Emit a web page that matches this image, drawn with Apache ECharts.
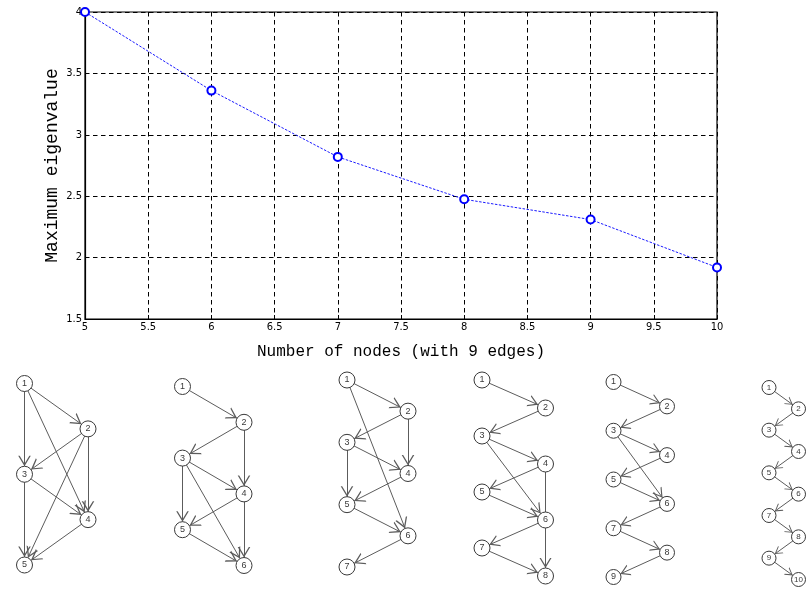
<!DOCTYPE html>
<html>
<head>
<meta charset="utf-8">
<script src="https://cdn.jsdelivr.net/npm/echarts@6/dist/echarts.min.js"></script>
<style>
  html, body { margin: 0; padding: 0; background: #ffffff; }
  #chart { width: 809px; height: 593px; }
</style>
</head>
<body>
<div id="chart"></div>
<script>
// Largest eigenvalue of the adjacency matrix vs. number of nodes (9 edges each)
const nodeCounts = [5, 6, 7, 8, 9, 10];
const maxEigenvalues = [4.0, 3.36, 2.82, 2.475, 2.31, 1.92];
const xTickStep = 0.5;
const yTickStep = 0.5;

// Directed edges (from, to) of the six example graphs drawn below the plot
const edgesN5  = [[1,2],[1,3],[1,4],[2,3],[2,4],[2,5],[3,4],[3,5],[4,5]];
const edgesN6  = [[1,2],[2,3],[2,4],[3,4],[3,5],[3,6],[4,5],[4,6],[5,6]];
const edgesN7  = [[1,2],[1,6],[2,3],[2,4],[3,4],[3,5],[4,5],[5,6],[6,7]];
const edgesN8  = [[1,2],[2,3],[3,4],[3,6],[4,5],[4,8],[5,6],[6,7],[7,8]];
const edgesN9  = [[1,2],[2,3],[3,4],[3,6],[4,5],[5,6],[6,7],[7,8],[8,9]];
const edgesN10 = [[1,2],[2,3],[3,4],[4,5],[5,6],[6,7],[7,8],[8,9],[9,10]];
const graphEdges = [edgesN5, edgesN6, edgesN7, edgesN8, edgesN9, edgesN10];

// Placement of each small graph drawing (zig-zag layout: odd nodes left, even right)
const graphBoxes = [
  { left: 24.5,  top: 383.5, width: 63.5, height: 181.5, node: 16, arrow: 21 },
  { left: 182.5, top: 386.5, width: 61.5, height: 179,   node: 16, arrow: 21 },
  { left: 347,   top: 380,   width: 61,   height: 187,   node: 16, arrow: 21 },
  { left: 482,   top: 380,   width: 63.5, height: 196,   node: 16, arrow: 20 },
  { left: 613.5, top: 382,   width: 53.5, height: 195,   node: 15, arrow: 19 },
  { left: 769,   top: 387.5, width: 29.5, height: 192,   node: 14, arrow: 15 }
];

// Open "V" arrow head; apex sits at the symbol centre so it touches the node border
const openArrow = 'path://M0,0L20,0L0,0Z M10,10 L16,20 L14.6,20 L10,12.4 L5.4,20 L4,20 Z';

const tickFont = "'Liberation Sans Narrow','DejaVu Sans Condensed','Liberation Sans',sans-serif";
const monoFont = "'Liberation Mono','DejaVu Sans Mono',monospace";

const grids = [{
  left: 85, top: 12, width: 632, height: 307,
  show: true, borderColor: '#000', borderWidth: 1.2, backgroundColor: 'transparent'
}];
const xAxes = [{
  gridIndex: 0, type: 'value', min: 5, max: 10, interval: xTickStep,
  name: 'Number of nodes (with 9 edges)', nameLocation: 'middle', nameGap: 25,
  nameMoveOverlap: false,
  nameTextStyle: { fontFamily: monoFont, fontSize: 16, color: '#000' },
  axisLine: { lineStyle: { color: '#000', width: 1.2 } },
  axisTick: { inside: true, length: 4, lineStyle: { color: '#000' } },
  axisLabel: { margin: 3, fontFamily: tickFont, fontSize: 11, color: '#000',
               showMinLabel: true, showMaxLabel: true },
  splitLine: { show: true, lineStyle: { color: '#000', width: 1, type: [4.5, 3.5] } }
}];
const yAxes = [{
  gridIndex: 0, type: 'value', min: 1.5, max: 4, interval: yTickStep,
  name: 'Maximum eigenvalue', nameLocation: 'middle', nameGap: 24,
  nameMoveOverlap: false,
  nameTextStyle: { fontFamily: monoFont, fontSize: 18, color: '#000' },
  axisLine: { lineStyle: { color: '#000', width: 1.2 } },
  axisTick: { inside: true, length: 4, lineStyle: { color: '#000' } },
  axisLabel: { margin: 3, fontFamily: tickFont, fontSize: 11, color: '#000',
               showMinLabel: true, showMaxLabel: true },
  splitLine: { show: true, lineStyle: { color: '#000', width: 1, type: [4.5, 3.5] } }
}];

const series = [{
  type: 'line',
  xAxisIndex: 0, yAxisIndex: 0,
  data: nodeCounts.map((n, i) => [n, maxEigenvalues[i]]),
  clip: false,
  symbol: 'emptyCircle', symbolSize: 8,
  lineStyle: { color: '#1a1aff', width: 1, type: [2.5, 1.5] },
  itemStyle: { color: '#0000ff', borderColor: '#0000ff', borderWidth: 1 },
  z: 5, silent: true
}];

graphEdges.forEach((edges, k) => {
  const n = nodeCounts[k];
  const box = graphBoxes[k];
  const gi = k + 1;
  grids.push({ left: box.left, top: box.top, width: box.width, height: box.height, show: false });
  xAxes.push({ gridIndex: gi, type: 'value', min: 0, max: 1, show: false });
  yAxes.push({ gridIndex: gi, type: 'value', min: 0, max: n - 1, inverse: true, show: false });

  const nodes = [];
  for (let i = 1; i <= n; i++) {
    nodes.push({ name: String(i), value: [(i + 1) % 2 === 0 ? 0 : 1, i - 1] });
  }
  series.push({
    type: 'graph',
    coordinateSystem: 'cartesian2d',
    xAxisIndex: gi, yAxisIndex: gi,
    silent: true,
    symbol: 'circle',
    symbolSize: box.node,
    itemStyle: { color: '#ffffff', borderColor: '#3a3a3a', borderWidth: 1 },
    label: {
      show: true, position: 'inside', color: '#3a3a3a',
      fontFamily: "'Liberation Sans','DejaVu Sans',sans-serif",
      fontSize: n === 10 ? 8 : 9
    },
    edgeSymbol: ['none', openArrow],
    edgeSymbolSize: [0, box.arrow],
    lineStyle: { color: '#5c5c5c', width: 1, opacity: 1, curveness: 0 },
    data: nodes,
    links: edges.map(e => ({ source: String(e[0]), target: String(e[1]) }))
  });
});

const chart = echarts.init(document.getElementById('chart'), null, { renderer: 'canvas' });
chart.setOption({
  animation: false,
  backgroundColor: '#ffffff',
  grid: grids,
  xAxis: xAxes,
  yAxis: yAxes,
  series: series
});
</script>
</body>
</html>
